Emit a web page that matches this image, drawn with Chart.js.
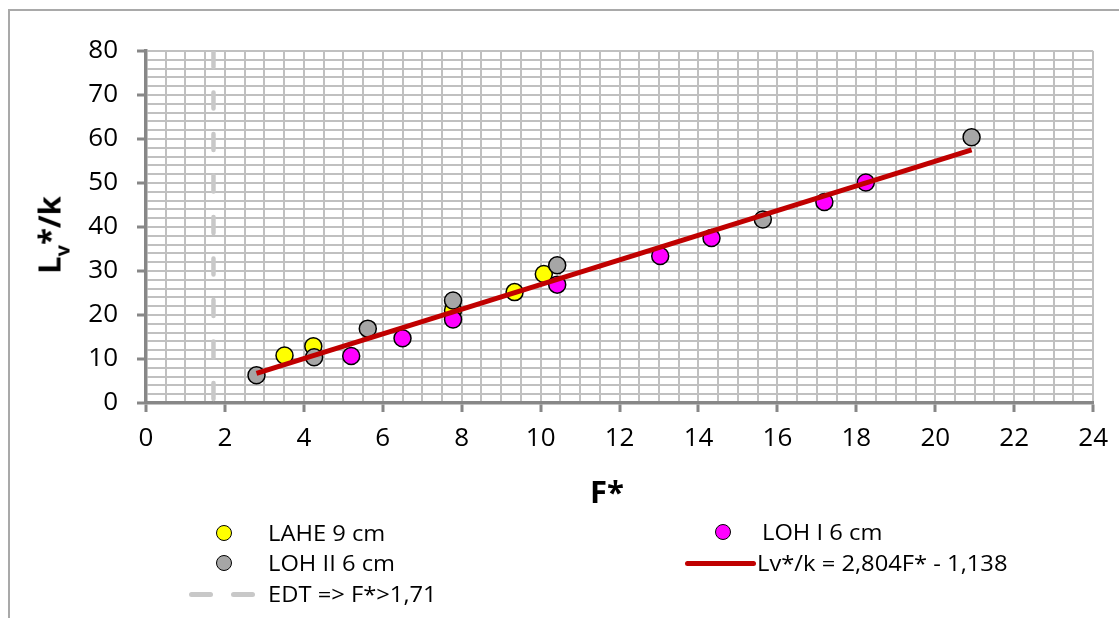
<!DOCTYPE html>
<html>
<head>
<meta charset="utf-8">
<script src="https://cdn.jsdelivr.net/npm/chart.js@4.4.1/dist/chart.umd.min.js"></script>
<style>
  html, body { margin: 0; padding: 0; background: #fff; }
  body { width: 1119px; height: 618px; overflow: hidden; position: relative; font-family: "Open Sans", sans-serif; color: #000; }
  #frame { position: absolute; left: 8px; top: 9px; width: 1130px; height: 640px; border-left: 2px solid #a9a9a9; border-top: 2px solid #a9a9a9; }
  #c { position: absolute; left: 0; top: 0; }
  .ttl { position: absolute; font-weight: 700; white-space: nowrap; line-height: 1; }
  #ytitle { left: 49px; top: 235px; font-size: 31px; transform: translate(-50%, -50%) rotate(-90deg); }
  #ytitle sub { font-size: 20px; vertical-align: -9px; line-height: 0; }
  #xtitle { left: 607px; top: 491px; font-size: 31px; transform: translate(-50%, -50%); }
  .lg { position: absolute; font-size: 21px; line-height: 24px; white-space: nowrap; transform: scaleX(1.13); transform-origin: left center; }
  .mk { position: absolute; width: 16px; height: 16px; border-radius: 50%; border: 1.5px solid #000; box-sizing: border-box; }
  .bar { position: absolute; border-radius: 3px; }
</style>
</head>
<body>
<div id="frame"></div>
<canvas id="c" width="1119" height="618"></canvas>
<div class="ttl" id="ytitle">L<sub>v</sub>*/k</div>
<div class="ttl" id="xtitle">F*</div>

<div class="mk" style="left:216px;top:525px;background:#ffff00"></div>
<div class="lg" style="left:268px;top:521px">LAHE 9 cm</div>
<div class="mk" style="left:216px;top:555px;background:#a6a6a6"></div>
<div class="lg" style="left:268px;top:551px">LOH II 6 cm</div>
<div class="bar" style="left:189px;top:592px;width:24px;height:5px;background:#c8c8c8"></div>
<div class="bar" style="left:231px;top:592px;width:24px;height:5px;background:#c8c8c8"></div>
<div class="lg" style="left:268px;top:582px">EDT =&gt; F*&gt;1,71</div>

<div class="mk" style="left:715px;top:524px;background:#ff00ff"></div>
<div class="lg" style="left:762px;top:520px">LOH I 6 cm</div>
<div class="bar" style="left:685px;top:561px;width:71px;height:5px;background:#c00000"></div>
<div class="lg" style="left:757px;top:551px">Lv*/k = 2,804F* - 1,138</div>

<script>
// Measured series (F*, Lv*/k)
const laheF  = [3.51, 4.24, 7.78, 9.34, 10.08];
const laheL  = [10.8, 12.9, 21.1, 25.2, 29.3];
const loh1F  = [5.20, 6.50, 7.78, 10.42, 13.03, 14.33, 17.19, 18.24];
const loh1L  = [10.7, 14.7, 19.0, 26.9, 33.4, 37.5, 45.7, 50.1];
const loh2F  = [2.80, 4.26, 5.62, 7.78, 10.42, 15.63, 20.92];
const loh2L  = [6.3, 10.4, 16.9, 23.3, 31.3, 41.7, 60.4];

// Linear fit stated in the legend: Lv*/k = 2,804 F* - 1,138
const fitSlope = 2.804;
const fitIntercept = -1.138;

// EDT limit
const edtF = 1.71;

// Axis ranges and tick steps
const xRange = [0, 24];
const yRange = [0, 80];
const xLabelStep = 2, xGridStep = 0.5;
const yLabelStep = 10, yGridStep = 2;

const zip = (xs, ys) => xs.map((x, i) => ({ x: x, y: ys[i] }));
const allF = laheF.concat(loh1F, loh2F);
const fMin = Math.min(...allF), fMax = Math.max(...allF);
const fitPts = [fMin, fMax].map(f => ({ x: f, y: fitSlope * f + fitIntercept }));
const edtPts = [{ x: edtF, y: yRange[1] }, { x: edtF, y: yRange[0] }];

const axisColor = '#878787';
const gridColor = '#c0c0c0';
const tickFont = { family: "'Open Sans', sans-serif", size: 26, lineHeight: 1.2 };

function draw() {
  Chart.defaults.font.family = "'Open Sans', sans-serif";
  Chart.defaults.font.size = 26;
  new Chart(document.getElementById('c'), {
    type: 'scatter',
    data: {
      datasets: [
        { label: 'Lv*/k = 2,804F* - 1,138', data: fitPts, showLine: true, borderColor: '#c00000',
          borderWidth: 5, pointRadius: 0, order: 0 },
        { label: 'LOH II 6 cm', data: zip(loh2F, loh2L), backgroundColor: '#a6a6a6', borderColor: '#000',
          borderWidth: 1.5, pointRadius: 8.5, order: 1 },
        { label: 'LOH I 6 cm', data: zip(loh1F, loh1L), backgroundColor: '#ff00ff', borderColor: '#000',
          borderWidth: 1.5, pointRadius: 8.5, order: 2 },
        { label: 'LAHE 9 cm', data: zip(laheF, laheL), backgroundColor: '#ffff00', borderColor: '#000',
          borderWidth: 1.5, pointRadius: 8.5, order: 3 },
        { label: 'EDT => F*>1,71', data: edtPts, showLine: true, borderColor: '#c8c8c8', borderWidth: 4.5,
          borderDash: [16, 25.5], borderCapStyle: 'round', pointRadius: 0, order: 4 }
      ]
    },
    options: {
      responsive: false,
      animation: false,
      devicePixelRatio: 1,
      layout: { padding: { top: 51, right: 24, left: 0, bottom: 0 } },
      plugins: { legend: { display: false }, tooltip: { enabled: false } },
      scales: {
        x: {
          type: 'linear', min: xRange[0], max: xRange[1],
          afterFit: s => { s.height = 215; },
          border: { display: true, color: axisColor, width: 3.5 },
          grid: {
            color: gridColor, lineWidth: 2, tickLength: 9, tickWidth: 3,
            tickColor: c => (c.tick && c.tick.value % xLabelStep === 0) ? axisColor : 'rgba(0,0,0,0)'
          },
          ticks: {
            stepSize: xGridStep, autoSkip: false, maxRotation: 0, minRotation: 0, padding: 11,
            color: '#000', font: tickFont,
            callback: v => (v % xLabelStep === 0 ? String(v) : '')
          }
        },
        y: {
          type: 'linear', min: yRange[0], max: yRange[1],
          afterFit: s => { s.width = 146; },
          border: { display: true, color: axisColor, width: 3.5 },
          grid: {
            color: gridColor, lineWidth: 2, tickLength: 9, tickWidth: 3,
            tickColor: c => (c.tick && c.tick.value % yLabelStep === 0) ? axisColor : 'rgba(0,0,0,0)'
          },
          ticks: {
            stepSize: yGridStep, autoSkip: false, padding: 19,
            color: '#000', font: tickFont,
            callback: v => (v % yLabelStep === 0 ? String(v) : '')
          }
        }
      }
    }
  });
}

if (document.fonts && document.fonts.load) {
  Promise.all([document.fonts.load('26px "Open Sans"'), document.fonts.load('700 31px "Open Sans"')])
    .then(draw, draw);
} else {
  draw();
}
</script>
</body>
</html>
